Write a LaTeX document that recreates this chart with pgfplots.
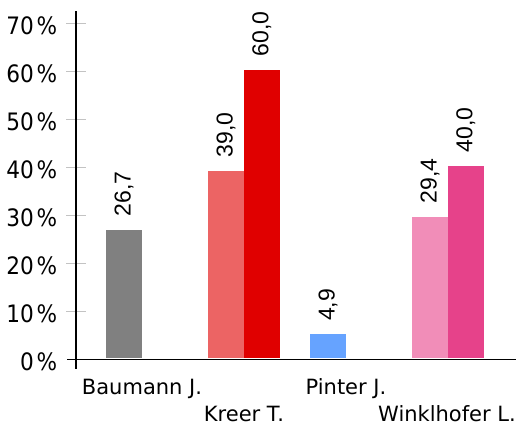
\documentclass[border=0pt]{standalone}
\usepackage{pgfplots}
\pgfplotsset{compat=1.18}
\usepackage{fontspec}
\setmainfont{DejaVu Sans}
\newfontfamily\tickfont{DejaVu Sans Condensed}
\newfontfamily\valfont{Liberation Sans}
\definecolor{cgrey}{RGB}{128,128,128}
\definecolor{clred}{RGB}{236,100,100}
\definecolor{cred}{RGB}{224,0,0}
\definecolor{cblue}{RGB}{102,163,255}
\definecolor{cpink}{RGB}{241,141,184}
\definecolor{cdpink}{RGB}{230,66,138}
\definecolor{ctick}{RGB}{195,195,195}
\begin{document}
\begin{tikzpicture}
\useasboundingbox (-76pt,-56pt) rectangle (443pt,369pt);
\begin{axis}[
  scale only axis, width=440pt, height=358pt,
  xmin=-0.647, xmax=3.667, ymin=-1.94, ymax=72.65,
  clip=false,
  axis line style={draw=none},
  ytick={0,10,...,70},
  ytick pos=left, xtick pos=bottom,
  yticklabel={\pgfmathprintnumber[assume math mode=true]{\tick}\hspace{3pt}\%},
  tick style={draw=none},
  tick align=center,
  major tick length=19pt,
  y tick label style={font=\tickfont\fontsize{24}{26}\selectfont, inner sep=0pt, xshift=-9pt, yshift=-2pt},
  xtick={0,2}, xticklabels={Baumann J., Pinter J.},
  extra x ticks={1,3}, extra x tick labels={Kreer T., Winklhofer L.\kern2pt},
  extra x tick style={xticklabel style={yshift=-27pt}},
  x tick label style={font=\fontsize{21}{24}\selectfont, inner sep=0pt},
  bar width=0.353,
  nodes near coords={\pgfmathprintnumber[fixed, fixed zerofill, precision=1, use comma, assume math mode=true]{\pgfplotspointmeta}},
  nodes near coords style={rotate=90, anchor=west, inner xsep=13pt, inner ysep=0pt, font=\valfont\fontsize{23}{26}\selectfont, text=black},
]
\pgfplotsinvokeforeach{10,20,30,40,50,60,70}{
  \fill[ctick] ([xshift=-9.5pt, yshift=-0.7pt]axis cs:-0.647,#1) rectangle ([xshift=9.5pt, yshift=0.7pt]axis cs:-0.647,#1);
}
\addplot[ybar, bar shift=0pt, fill=cgrey, draw=none, yshift=2pt] coordinates {(-0.176,26.7)};
\addplot[ybar, bar shift=0pt, fill=clred, draw=none, yshift=2pt] coordinates {(0.824,39.0)};
\addplot[ybar, bar shift=0pt, fill=cred, draw=none, yshift=2pt] coordinates {(1.176,60.0)};
\addplot[ybar, bar shift=0pt, fill=cblue, draw=none, yshift=2pt] coordinates {(1.824,4.9)};
\addplot[ybar, bar shift=0pt, fill=cpink, draw=none, yshift=2pt] coordinates {(2.824,29.4)};
\addplot[ybar, bar shift=0pt, fill=cdpink, draw=none, yshift=2pt] coordinates {(3.176,40.0)};
\fill[black] ([xshift=-0.75pt]rel axis cs:0,0) rectangle ([xshift=0.75pt]rel axis cs:0,1);
\fill[black] ([xshift=-9pt, yshift=-0.75pt]axis cs:-0.647,0) rectangle ([yshift=0.75pt]axis cs:3.667,0);
\end{axis}
\end{tikzpicture}
\end{document}
